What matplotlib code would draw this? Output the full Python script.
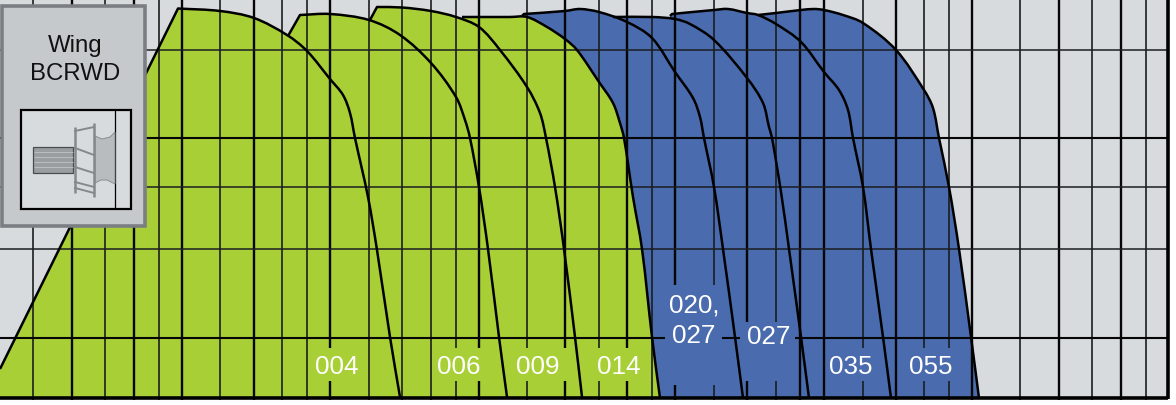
import math
import matplotlib as mpl
mpl.use('Agg')
import matplotlib.pyplot as plt
from matplotlib.patches import Rectangle, Polygon, PathPatch
from matplotlib.path import Path

# everything, in picture pixels (y runs downwards)
W = 1176
H = 405
BASE = 397.5
RIGHT = 1168

GREEN = '#a9cf36'
BLUE = '#4a6bae'
GRAY = '#d8dbde'

x_004 = [0, 178, 220, 254, 287, 307, 330, 343, 350, 355, 368, 377, 390, 400]
y_004 = [369, 8.5, 11, 18, 35, 51, 79, 95, 113, 138, 197, 250, 337, 397]
x_006 = [288, 300, 330, 369, 400, 431, 456, 465, 470, 479, 488, 499, 507]
y_006 = [36, 15, 14, 20, 35, 63, 97, 120, 138, 187, 249, 337, 397]
x_009 = [370, 377, 402, 431, 456, 479, 500, 527, 540, 546, 555, 564, 575, 582]
y_009 = [20, 7, 7.5, 11, 17, 27, 50, 87, 113, 138, 187, 249, 337, 397]
x_014 = [462, 479, 510, 527, 547, 565, 577, 599, 613, 620, 624, 633, 642, 652, 660]
y_014 = [17, 17, 17, 17, 27, 39, 50, 82, 103, 123, 138, 197, 249, 337, 398]
x_020 = [522, 524, 565, 580, 599, 627, 652, 675, 693, 700, 704, 714, 723, 735, 743]
y_020 = [16, 14, 11, 9, 12, 22, 38, 72, 98, 117, 138, 187, 249, 337, 398]
x_027 = [613, 652, 675, 690, 714, 747, 763, 769, 772, 781, 789, 801, 809]
y_027 = [17, 17, 19, 24, 40, 78, 103, 127, 138, 192, 249, 337, 398]
x_035 = [670, 672, 714, 728, 747, 758, 776, 801, 824, 839, 848, 853, 863, 871, 883, 891]
y_035 = [16, 14, 10, 9, 13, 15, 24, 42, 72, 90, 110, 138, 187, 249, 337, 398]
x_055 = [758, 776, 801, 814, 824, 843, 863, 896, 924, 933, 939, 949, 959, 971, 979]
y_055 = [15, 13, 10, 9, 10, 15, 23, 50, 90, 108, 138, 187, 249, 337, 398]

# (x, y, number of straight segments before the rounded part)
green_curves = [(x_004, y_004, 1), (x_006, y_006, 1), (x_009, y_009, 1), (x_014, y_014, 0)]
blue_curves = [(x_020, y_020, 1), (x_027, y_027, 0), (x_035, y_035, 1), (x_055, y_055, 0)]

grid_thin_x = [33, 105, 159, 220, 282, 307, 369, 402, 431, 456, 527, 599, 652, 714,
               776, 863, 924, 949, 1020, 1092, 1146]
grid_thick_x = [72, 134, 182, 254, 330, 479, 565, 627, 675, 747, 800, 824, 896, 972,
                1059, 1121]
grid_thin_y = [50, 186.7, 249]
grid_thick_y = [137.7, 337.5]

labels = ['004', '006', '009', '014', '020,\n027', '027', '035', '055']
label_x = [337, 459, 538, 619, 694, 769, 851, 931]
label_y = [367, 367, 367, 367, 321, 336.5, 367, 367]
label_bg = [GREEN, GREEN, GREEN, GREEN, BLUE, BLUE, BLUE, BLUE]

# where the grid is knocked out behind each label
gap_left = [312, 433, 513, 594, 665, 740, 827, 907]
gap_right = [362, 486, 568, 643, 722, 795, 875, 955]
gap_top = [348, 348, 348, 348, 285, 322, 348, 348]
gap_bottom = [381, 381, 381, 381, 385, 381, 381, 381]

# little fan pictogram in the inset
motor_stripes_y = [152, 157, 162, 167]
rail_x = [75, 94]
slat_left_y = [131, 148, 167, 182, 188]
slat_right_y = [127, 155, 173, 187, 193]
cone_x = [95, 102, 110, 115, 115, 107, 101, 95]
cone_y = [136, 139, 137, 132, 184, 180, 180, 183]


def tangent(a, b):
    dx = b[0] - a[0]
    dy = b[1] - a[1]
    d = math.hypot(dx, dy) or 1
    return dx / d, dy / d


def smooth_path(x, y, corner, close=False):
    # straight up to the corner, then a curve through the read points
    pts = list(zip(x, y))
    verts = [pts[0]]
    codes = [Path.MOVETO]
    for i in range(1, corner + 1):
        verts.append(pts[i])
        codes.append(Path.LINETO)
    for i in range(corner, len(pts) - 1):
        p0 = pts[max(i - 1, corner)]
        p1 = pts[i]
        p2 = pts[i + 1]
        p3 = pts[min(i + 2, len(pts) - 1)]
        # handle length follows the segment length, so short knees do not wobble
        seg = math.hypot(p2[0] - p1[0], p2[1] - p1[1]) / 3
        t1 = tangent(p0, p2)
        t2 = tangent(p1, p3)
        c1 = (p1[0] + t1[0] * seg, p1[1] + t1[1] * seg)
        c2 = (p2[0] - t2[0] * seg, p2[1] - t2[1] * seg)
        verts += [c1, c2, p2]
        codes += [Path.CURVE4] * 3
    if close:
        verts += [(x[-1], BASE), (x[0], BASE), pts[0]]
        codes += [Path.LINETO, Path.LINETO, Path.CLOSEPOLY]
    return Path(verts, codes)


fig = plt.figure(figsize=(W / 100, H / 100), dpi=100)
ax = fig.add_axes([0, 0, 1, 1])
ax.set_xlim(0, W)
ax.set_ylim(H, 0)
ax.axis('off')

ax.add_patch(Rectangle((0, 0), RIGHT, BASE, fc=GRAY, ec='none', zorder=0))

for x, y, corner in blue_curves:
    ax.add_patch(PathPatch(smooth_path(x, y, corner, True), fc=BLUE, ec='none', zorder=1))
for x, y, corner in green_curves:
    ax.add_patch(PathPatch(smooth_path(x, y, corner, True), fc=GREEN, ec='none', zorder=2))

ax.vlines(grid_thin_x, 0, 400, color='#1c1e20', lw=1.2, zorder=3)
ax.vlines(grid_thick_x, 0, 400, color='#060606', lw=1.7, zorder=3)
ax.hlines(grid_thin_y, 0, RIGHT, color='#1c1e20', lw=1.1, zorder=3)
ax.hlines(grid_thick_y, 0, RIGHT, color='#060606', lw=1.5, zorder=3)

for left, right, top, bottom, bg in zip(gap_left, gap_right, gap_top, gap_bottom, label_bg):
    ax.add_patch(Rectangle((left, top), right - left, bottom - top, fc=bg, ec='none', zorder=3.5))

for x, y, corner in green_curves + blue_curves:
    ax.add_patch(PathPatch(smooth_path(x, y, corner), fc='none', ec='black', lw=1.8,
                           joinstyle='round', zorder=4))

ax.hlines(BASE, 0, RIGHT, color='black', lw=2.6, zorder=5)
ax.vlines(RIGHT, 0, BASE + 1, color='black', lw=2.6, zorder=5)

for text, x, y in zip(labels, label_x, label_y):
    ax.text(x, y, text, color='white', fontsize=18.7, family='Liberation Sans',
            ha='center', va='center', linespacing=1.33, zorder=6)

# inset panel
ax.add_patch(Rectangle((2, 5.5), 143, 220, fc='#c6c9cc', ec='#7b7f83', lw=2.6, zorder=7))
ax.text(75, 46, 'Wing', color='#111111', fontsize=17.3, family='Liberation Sans',
        ha='center', va='center', zorder=8)
ax.text(75, 74, 'BCRWD', color='#111111', fontsize=17.3, family='Liberation Sans',
        ha='center', va='center', zorder=8)
ax.add_patch(Rectangle((21, 110), 110, 99, fc=GRAY, ec='black', lw=1.6, zorder=8))
ax.vlines(115, 110, 209, color='black', lw=0.9, zorder=9)
ax.add_patch(Rectangle((33, 147), 40, 26, fc='#9a9ea1', ec='#4a4d50', lw=0.9, zorder=9))
ax.hlines(motor_stripes_y, 33.5, 72.5, color='#c2c5c8', lw=0.6, zorder=10)
ax.add_patch(Polygon(list(zip(cone_x, cone_y)), fc='#b9bcbf', ec='#8a8e91', lw=0.7, zorder=9))
ax.vlines(rail_x, [127, 123], [193, 197], color='#85898c', lw=1.8, zorder=10)
for left, right in zip(slat_left_y, slat_right_y):
    ax.plot(rail_x, [left, right], color='#85898c', lw=1.4, zorder=10)

fig.savefig('out.png', dpi=100, facecolor='white')
